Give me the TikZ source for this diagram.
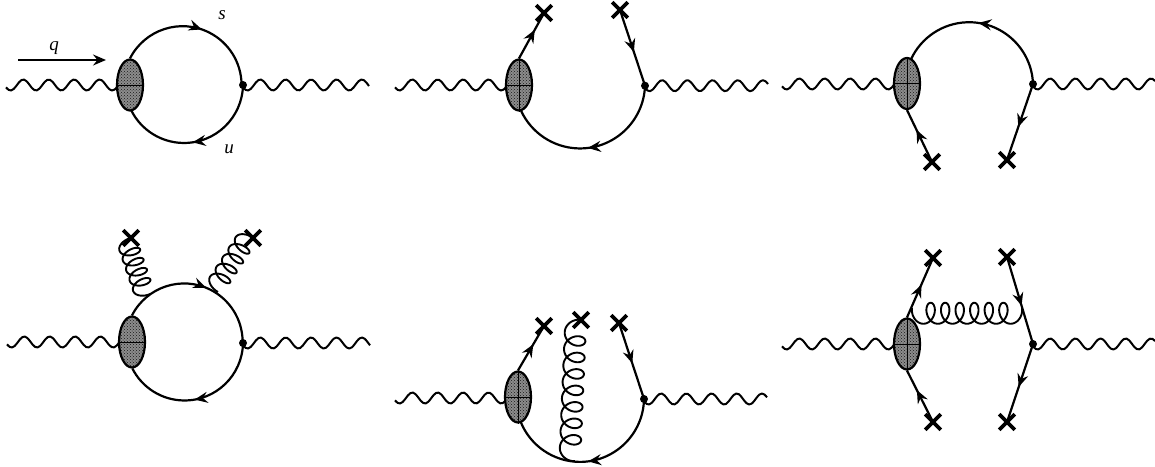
\documentclass[tikz,border=0pt]{standalone}
\usepackage{fontspec}
\setmainfont{Liberation Serif}
\usetikzlibrary{arrows.meta,decorations.markings,patterns,shapes.misc,shapes.geometric}
\tikzset{
  x=1pt,y=-1pt,
  line/.style={line width=2.2pt,black},
  photonline/.style={line width=2pt,black,line join=round},
  gluonline/.style={line width=1.9pt,black,line join=round},
  blob/.style={ellipse,draw,line width=2.2pt,minimum width=26pt,minimum height=51pt,inner sep=0pt,preaction={fill=black!45},pattern=crosshatch dots,pattern color=black!90},
  vdot/.style={circle,fill=black,minimum size=8pt,inner sep=0pt},
  cross/.style={cross out,draw,line width=3.6pt,minimum size=12pt,inner sep=0pt},
  arr/.style={postaction={decorate,decoration={markings,mark=at position #1 with {\arrow{Stealth[length=13pt,width=11pt,inset=4.5pt]}}}}},
  lab/.style={font=\itshape\fontsize{19}{19}\selectfont},
}
\newcommand{\blobat}[3]{%
  \node[blob] (#1) at (#2,#3) {};
  \draw[line width=0.9pt] (#1.west) -- (#1.east);
}
% #1 start, #2 end, #3 period
\newcommand{\photon}[3]{%
  \path (#1); \pgfgetlastxy{\pxa}{\pya}
  \path (#2); \pgfgetlastxy{\pxb}{\pyb}
  \pgfmathsetmacro\plen{\pxb-\pxa}
  \pgfmathtruncatemacro\ps{\plen/2.5}
  \draw[photonline,shift={(#1)},x=1pt,y=1pt]
    plot[domain=0:\plen,samples=\ps,smooth,variable=\t]
    ({\t},{-5.5*sin(25+\t/#3*360)});
}
% #1 start, #2 end, #3 lobes, #4 lobe size, #5 height
\newcommand{\gluon}[5]{%
  \path (#1); \pgfgetlastxy{\gxa}{\gya}
  \path (#2); \pgfgetlastxy{\gxb}{\gyb}
  \pgfmathsetmacro\gang{atan2(\gyb-\gya,\gxb-\gxa)}
  \pgfmathsetmacro\glen{veclen(\gxb-\gxa,\gyb-\gya)}
  \pgfmathsetmacro\gend{360*#3+120}
  \pgfmathsetmacro\gk{(\glen-1.732*#4)/(360*#3+240)}
  \pgfmathtruncatemacro\gs{(360*#3+240)/8}
  \draw[gluonline,shift={(#1)},rotate=\gang,x=1pt,y=1pt]
    plot[domain=-120:\gend,samples=\gs,smooth,variable=\t]
    ({\gk*(\t+120)+#4*(sin(\t)+0.866)},{#5*(-0.5-cos(\t))});
}
\begin{document}
\begin{tikzpicture}
\useasboundingbox (0,0) rectangle (1155,466);
% panel 1
\coordinate (al) at (6,85); \coordinate (aw) at (130,85); \coordinate (ar) at (369,85); \coordinate (avc) at (243,85);
\photon{al}{aw}{25.4}
\photon{avc}{ar}{25.4}
\blobat{a}{130}{85}
\node[vdot] (av) at (avc) {};
\draw[line,arr=0.54] (a.north) arc[start angle=-153,end angle=-1,radius=59];
\draw[line,arr=0.53] (av.center) arc[start angle=1,end angle=153,radius=59];
\coordinate (qs) at (18,60); \coordinate (qe) at (106,60);
\draw[line,-{Stealth[length=13pt,width=11pt,inset=4.5pt]}] (qs) -- (qe);
\node[lab] (lq) at (54,48) {q};
\node[lab] (ls) at (222,15) {s};
\node[lab] (lu) at (229,149) {u};
% panel 2
\coordinate (bl) at (395,85); \coordinate (bw) at (519,85); \coordinate (br) at (768,85); \coordinate (bvc) at (645,85.7);
\photon{bl}{bw}{25.4}
\photon{bvc}{br}{25.2}
\blobat{b}{519}{85}
\draw[line width=0.6pt] (b.north) -- (b.south);
\node[vdot] (bv) at (bvc) {};
\node[cross] (bx1) at (544,13) {};
\node[cross] (bx2) at (620,10) {};
\draw[line,arr=0.63] (b.north) -- (bx1.center);
\draw[line,arr=0.555] (bx2.center) -- (bv.center);
\draw[line,arr=0.53] (bv.center) arc[start angle=2,end angle=155,radius=65];
% panel 3
\coordinate (cl) at (782,84); \coordinate (cw) at (907,84); \coordinate (cr) at (1155,84); \coordinate (cvc) at (1033,84);
\photon{cl}{cw}{25.4}
\photon{cvc}{cr}{25.2}
\blobat{c}{907}{83.5}
\draw[line width=0.6pt] (c.north) -- (c.south);
\node[vdot] (cv) at (cvc) {};
\node[cross] (cx1) at (932,162) {};
\node[cross] (cx2) at (1007,160) {};
\draw[line,arr=0.62] (cx1.center) -- (c.south);
\draw[line,arr=0.565] (cv.center) -- (cx2.center);
\draw[line,arr=0.52] (cv.center) arc[start angle=-2,end angle=-155,radius=64];
% panel 4
\coordinate (dl) at (7,342); \coordinate (dw) at (132,342); \coordinate (dr) at (370,342); \coordinate (dvc) at (243,343);
\photon{dl}{dw}{25.4}
\photon{dvc}{dr}{25.4}
\blobat{d}{132}{342}
\node[vdot] (dv) at (dvc) {};
\node[cross] (dx1) at (131,238) {};
\node[cross] (dx2) at (253,238) {};
\coordinate (dg1) at (150,294); \coordinate (dg2) at (218,292);
\gluon{dx1.center}{dg1}{4}{5.5}{10}
\gluon{dx2.center}{dg2}{4}{5.5}{10}
\draw[line,arr=0.56] (d.north) arc[start angle=-153,end angle=-1,radius=58.5];
\draw[line,arr=0.52] (dv.center) arc[start angle=1,end angle=153,radius=58.5];
% panel 5
\coordinate (el) at (395,398); \coordinate (ew) at (518,398); \coordinate (er) at (767,398); \coordinate (evc) at (644,399);
\photon{el}{ew}{25.4}
\photon{evc}{er}{25.2}
\blobat{e}{518}{397}
\draw[line width=0.6pt] (e.north) -- (e.south);
\node[vdot] (ev) at (evc) {};
\node[cross] (ex1) at (544,326) {};
\node[cross] (ex2) at (581,320) {};
\node[cross] (ex3) at (619,323) {};
\coordinate (eg) at (575,461);
\gluon{ex2.center}{eg}{7}{8.5}{10.5}
\draw[line,arr=0.59] (e.north) -- (ex1.center);
\draw[line,arr=0.53] (ex3.center) -- (ev.center);
\draw[line,arr=0.52] (ev.center) arc[start angle=1,end angle=158,radius=64];
% panel 6
\coordinate (fl) at (782,344); \coordinate (fw) at (907,344); \coordinate (fr) at (1155,344); \coordinate (fvc) at (1033,344);
\photon{fl}{fw}{25.4}
\photon{fvc}{fr}{25.2}
\blobat{f}{907}{344}
\draw[line width=0.6pt] (f.north) -- (f.south);
\node[vdot] (fv) at (fvc) {};
\node[cross] (fx1) at (933,258) {};
\node[cross] (fx2) at (1007,257) {};
\node[cross] (fx3) at (933,422) {};
\node[cross] (fx4) at (1007,422) {};
\coordinate (fg1) at (912,308); \coordinate (fg2) at (1022,308);
\gluon{fg1}{fg2}{6}{7.5}{10.5}
\draw[line,arr=0.55] (f.north) -- (fx1.center);
\draw[line,arr=0.56] (fx2.center) -- (fv.center);
\draw[line,arr=0.62] (fx3.center) -- (f.south);
\draw[line,arr=0.55] (fv.center) -- (fx4.center);
\end{tikzpicture}
\end{document}
